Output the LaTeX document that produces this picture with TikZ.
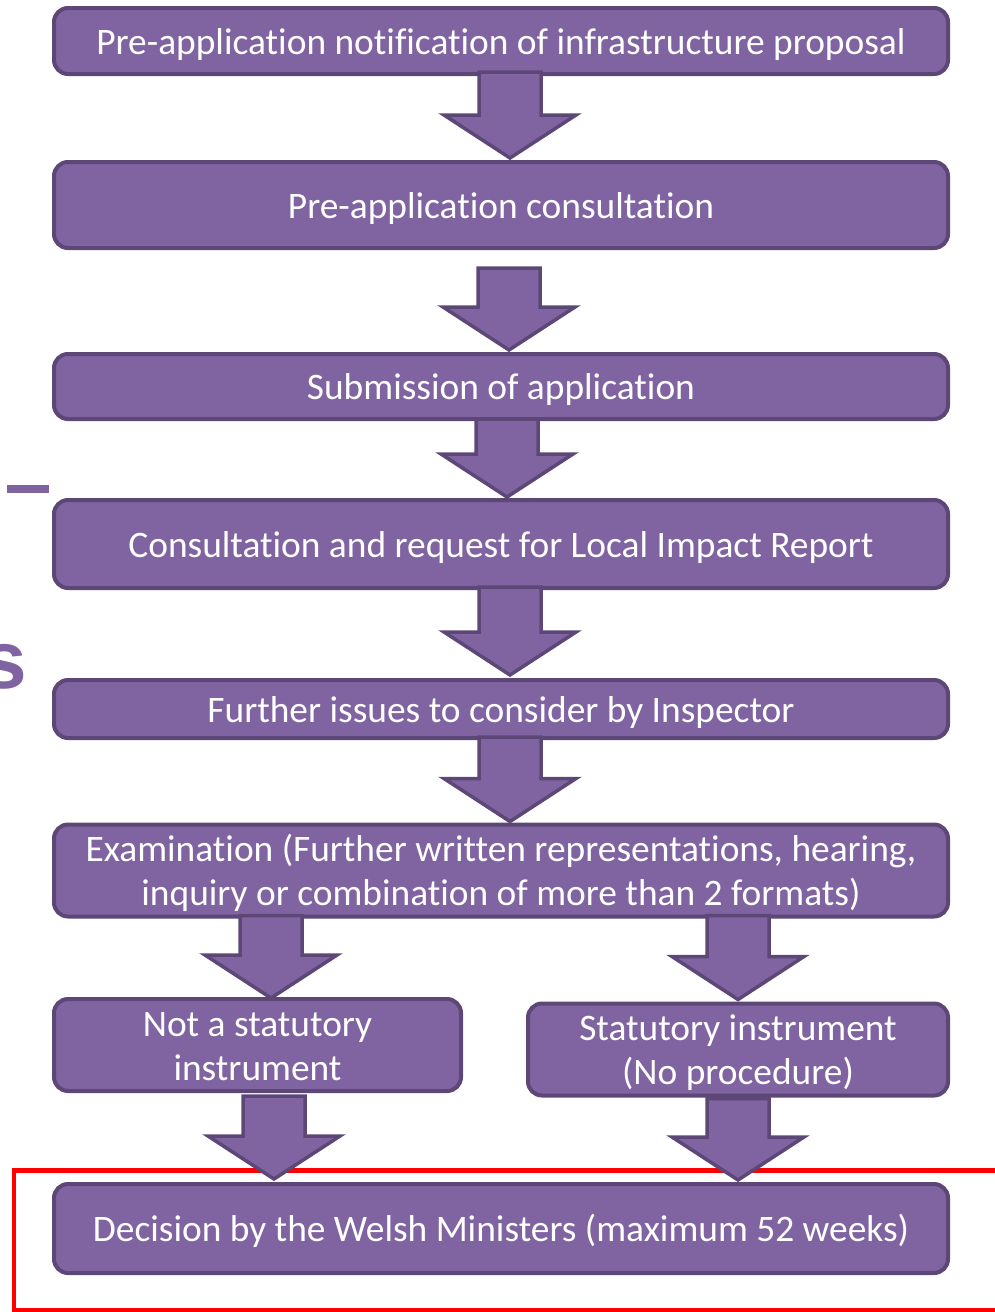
\documentclass[tikz,border=0pt]{standalone}
\usepackage{fontspec}
\setmainfont{Carlito}[Ligatures={NoCommon}]
\newfontfamily\headsans{Liberation Sans}
\usetikzlibrary{calc}

\definecolor{boxfill}{HTML}{8064A2}
\definecolor{boxline}{HTML}{5C4776}
\definecolor{frame}{HTML}{FF0000}

% fixed line metrics: 37pt above the first baseline, 11pt below the last
\newcommand\topstrut{\rule{0pt}{37pt}}
\newcommand\botstrut{\rule[-11pt]{0pt}{11pt}}

\tikzset{
  box/.style={draw=boxline, fill=boxfill, line width=4pt, rounded corners=14pt,
    text=white, font=\fontsize{37.4}{44}\selectfont, align=center, inner sep=0pt,
    execute at begin node=\topstrut, execute at end node=\botstrut},
  blk/.style={draw=boxline, fill=boxfill, line width=3.5pt, line join=miter},
}

% block arrow: source node, target node, centre x,
% shaft start below source, gap between tip and target
\newcommand\blockarrow[5]{%
  \draw[blk] let \p1=(#1.south), \p2=(#2.north),
      \n1={\y1-(#4pt)}, \n2={\y2+(#5pt)}, \n3={\n2+43pt} in
    ({#3pt-31pt},\n1) -- ({#3pt+31pt},\n1) -- ({#3pt+31pt},\n3)
    -- ({#3pt+66pt},\n3) -- (#3pt,\n2) -- ({#3pt-66pt},\n3)
    -- ({#3pt-31pt},\n3) -- cycle;}

\begin{document}
\begin{tikzpicture}[x=1pt,y=-1pt]
\useasboundingbox (0,0) rectangle (995,1312);

% stray heading fragments at the left margin
\fill[boxfill] (7,485) rectangle (49,493);
\node[anchor=base east, inner sep=0pt, text=boxfill,
  font=\headsans\bfseries\fontsize{82}{82}\selectfont] (frag) at (27,688) {s};

% process steps
\node[box, minimum width=894pt, minimum height=66pt] (b1) at (501,41)
  {Pre-application notification of infrastructure proposal};
\node[box, minimum width=894pt, minimum height=86pt] (b2) at (501,205)
  {Pre-application consultation};
\node[box, minimum width=894pt, minimum height=65pt] (b3) at (501,386.5)
  {Submission of application};
\node[box, minimum width=894pt, minimum height=88pt] (b4) at (501,544)
  {Consultation and request for Local Impact Report};
\node[box, minimum width=894pt, minimum height=58pt] (b5) at (501,709)
  {Further issues to consider by Inspector};
\node[box, minimum width=894pt, minimum height=89pt] (b6) at (501,870.5)
  {\topstrut Examination (Further written representations, hearing,\\inquiry or combination of more than 2 formats)\botstrut};
\node[box, minimum width=407pt, minimum height=88pt] (b7) at (257.5,1045)
  {\topstrut Not a statutory\\instrument\botstrut};
\node[box, minimum width=420pt, minimum height=87pt] (b8) at (738,1049.5)
  {\topstrut Statutory instrument\\(No procedure)\botstrut};
\node[box, minimum width=894pt, minimum height=89pt] (b9) at (501,1228.5)
  {Decision by the Welsh Ministers (maximum 52 weeks)};

% highlight frame round the final step (under the arrows)
\draw[frame, line width=4.5pt] (14,1170.5) rectangle (1005,1310.5);

% block arrows between steps
\blockarrow{b1}{b2}{510}{-4}{2}
\blockarrow{b2}{b3}{509}{18}{2}
\blockarrow{b3}{b4}{507}{-2}{1}
\blockarrow{b4}{b5}{510}{-3}{3}
\blockarrow{b5}{b6}{510}{-3}{1}
\blockarrow{b6}{b7}{271}{-3}{-1}
\blockarrow{b6}{b8}{738}{-3}{2}
\blockarrow{b7}{b9}{274}{3}{3}
\blockarrow{b8}{b9}{738}{1}{2}
\end{tikzpicture}
\end{document}
